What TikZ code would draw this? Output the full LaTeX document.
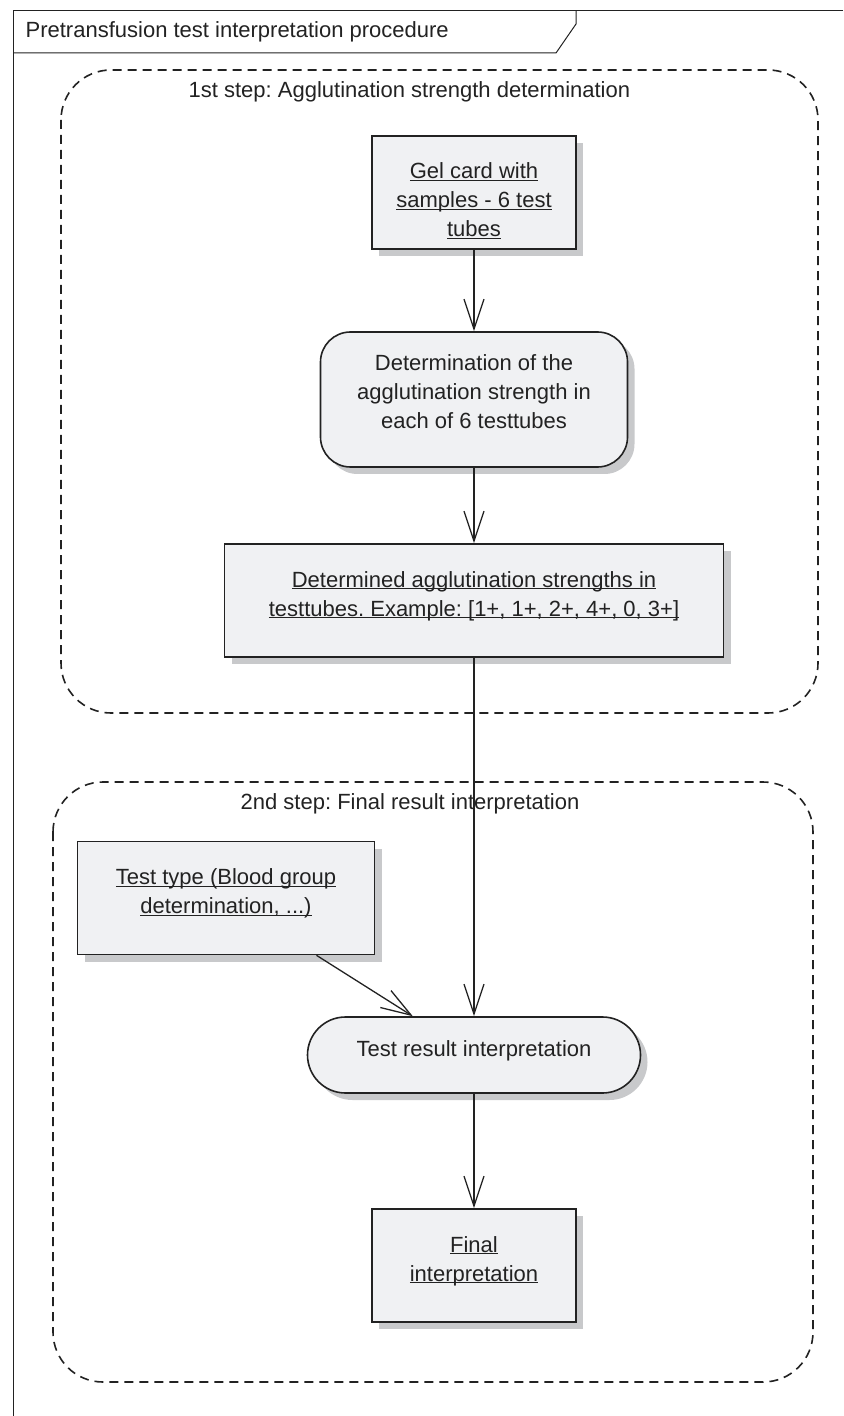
\documentclass[tikz,border=0pt]{standalone}
\usepackage{fontspec}
\setmainfont{Liberation Sans}
\usetikzlibrary{positioning,arrows.meta,shadows}
\frenchspacing

\definecolor{boxfill}{RGB}{240,241,243}
\definecolor{boxshade}{RGB}{200,201,203}
\definecolor{ink}{RGB}{34,34,34}
\newcommand{\undl}[1]{\setbox0\hbox{#1}\rlap{\rule[-1.2pt]{\wd0}{0.6pt}}\box0}
\newcommand{\boxlines}[1]{\begin{tabular}[t]{@{}c@{}}#1\end{tabular}}

\begin{document}
\begin{tikzpicture}[x=0.5pt, y=-0.5pt, >={Straight Barb[length=15pt,width=10pt]}, node distance=2cm, on grid, color=ink, line width=0.65pt,
	font=\fontsize{11pt}{14.5pt}\selectfont,
	obj/.style={draw, fill=boxfill, line width=0.8pt, inner sep=0pt, text height=21.5pt, text depth=35pt,
		drop shadow={shadow xshift=3.5pt, shadow yshift=-3.5pt, fill=boxshade, opacity=1}},
	act/.style={draw, fill=boxfill, line width=0.8pt, inner sep=0pt, text height=19.5pt, rounded corners=15pt,
		drop shadow={shadow xshift=3.5pt, shadow yshift=-3.5pt, fill=boxshade, opacity=1}},
	region/.style={line width=0.8pt, dash pattern=on 4.5pt off 3pt, rounded corners=25pt},
	lbl/.style={anchor=west, inner sep=0pt}]
	\useasboundingbox (0,0) rectangle (843,1416);
	
	% frame with its name tab
	\draw[line width=0.5pt] (843,11) -- (13,11) -- (13,1416);
	\draw[line width=0.5pt] (13,53) -- (556,53) -- (576,24) -- (576,11);
	\node[lbl] (title) at (25,32) {Pretransfusion test interpretation procedure};
	
	% the two steps
	\draw[region] (61,70) rectangle (818,713);
	\draw[region] (53,782) rectangle (813,1382);
	\node[lbl] (step1) at (188,92) {1st step: Agglutination strength determination};
	\node[lbl] (step2) at (240,804) {2nd step: Final result interpretation};
	
	\node[obj, minimum width=102pt] (gel) at (474,192.5) {\boxlines{\undl{Gel card with}\\ \undl{samples - 6 test}\\ \undl{tubes}}};
	\node[act, minimum width=153.5pt, text depth=48pt] (determ) [below=103.5pt of gel] {\boxlines{Determination of the\\ agglutination strength in\\ each of 6 testtubes}};
	\node[obj, minimum width=249.5pt] (strengths) [below=100.5pt of determ] {\boxlines{\undl{Determined agglutination strengths in}\\ \undl{testtubes. Example: [1+, 1+, 2+, 4+, 0, 3+]}}};
	\node[act, minimum width=166.5pt, text depth=18.5pt, rounded corners=19pt] (interp) [below=227.25pt of strengths] {Test result interpretation};
	\node[obj, minimum width=102pt] (final) [below=105.25pt of interp] {\boxlines{\undl{Final}\\ \undl{interpretation}}};
	\node[obj, minimum width=148.5pt] (testtype) [above left=78.5pt and 124pt of interp] {\boxlines{\undl{Test type (Blood group}\\ \undl{determination, ...)}}};
	
	\path[->]	(gel) edge (determ)
				(determ) edge (strengths)
				(strengths) edge (interp)
				(testtype) edge (interp)
				(interp) edge (final);
\end{tikzpicture}
\end{document}
